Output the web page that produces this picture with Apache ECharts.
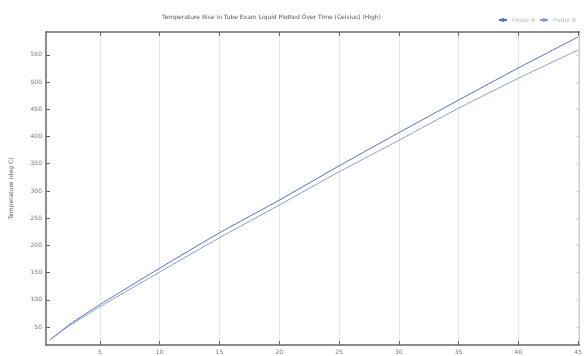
<!DOCTYPE html>
<html><head><meta charset="utf-8">
<script src="https://cdn.jsdelivr.net/npm/echarts@6/dist/echarts.min.js"></script>
<style>html,body{margin:0;padding:0;background:#fff}#c{width:585px;height:356px}</style>
</head><body><div id="c"></div>
<script>
const times = [0.8, 2.5, 5, 10, 15, 20, 25, 30, 35, 40, 45];
const probeA = [26, 55, 91, 158, 223, 283, 346, 407, 467, 526, 583];
const probeB = [26, 53, 87, 151, 214, 274, 335, 393, 452, 507, 559];
const xTicks = [5, 10, 15, 20, 25, 30, 35, 40, 45];
const yTicks = [50, 100, 150, 200, 250, 300, 350, 400, 450, 500, 550];
const seriesNames = ['Probe A', 'Probe B'];

const chart = echarts.init(document.getElementById('c'));
const axisCol = '#666';
const lab = {color: '#777', fontSize: 6, fontFamily: 'DejaVu Sans'};
chart.setOption({
  animation: false,
  title: {text: 'Temperature Rise in Tube Exam Liquid Plotted Over Time (Celsius) (High)', left: 157, top: 9,
    textStyle: {fontSize: 6, fontWeight: 'normal', color: '#555', fontFamily: 'DejaVu Sans'}},
  legend: {right: 4, top: 12, itemWidth: 8, itemHeight: 5, itemGap: 4,
    textStyle: {fontSize: 6, color: '#bbb', fontFamily: 'DejaVu Sans'}},
  grid: {left: 43, right: 5, top: 32, bottom: 11, containLabel: false},
  xAxis: [{type: 'value', min: 0.5, max: 45.1,
    axisLine: {lineStyle: {color: axisCol, width: 1.5}},
    axisTick: {inside: true, length: 4, customValues: xTicks, lineStyle: {color: axisCol}},
    axisLabel: Object.assign({customValues: xTicks, margin: 4}, lab),
    splitLine: {show: true, lineStyle: {color: '#e6e6e6'}}},
   {type: 'value', position: 'top', min: 0.5, max: 45.1,
    axisLine: {show: true, lineStyle: {color: axisCol, width: 1.5}},
    axisTick: {show: true, inside: true, length: 4, customValues: xTicks, lineStyle: {color: axisCol}},
    axisLabel: {show: false}, splitLine: {show: false}}],
  yAxis: [{type: 'value', min: 17, max: 592,
    name: 'Temperature (deg C)', nameLocation: 'middle', nameGap: 32, nameRotate: 90,
    nameTextStyle: {fontSize: 6, color: '#555', fontFamily: 'DejaVu Sans'},
    axisLine: {show: true, lineStyle: {color: axisCol, width: 1.5}},
    axisTick: {show: true, inside: true, length: 4, customValues: yTicks, lineStyle: {color: axisCol}},
    axisLabel: Object.assign({customValues: yTicks, margin: 4}, lab),
    splitLine: {show: false}},
   {type: 'value', position: 'right', min: 17, max: 592,
    axisLine: {show: true, lineStyle: {color: '#ccc', width: 1}},
    axisTick: {show: true, inside: true, length: 3, customValues: yTicks, lineStyle: {color: '#ccc'}},
    axisLabel: {show: false}, splitLine: {show: false}}],
  series: [
    {name: seriesNames[0], type: 'line', smooth: 0.2, symbol: 'none',
      lineStyle: {width: 1, color: '#4f6fc4'}, itemStyle: {color: '#4f6fc4'},
      data: times.map((t, i) => [t, probeA[i]])},
    {name: seriesNames[1], type: 'line', smooth: 0.2, symbol: 'none',
      lineStyle: {width: 1, color: '#8a9ccc'}, itemStyle: {color: '#8a9ccc'},
      data: times.map((t, i) => [t, probeB[i]])}
  ]
});
</script></body></html>
